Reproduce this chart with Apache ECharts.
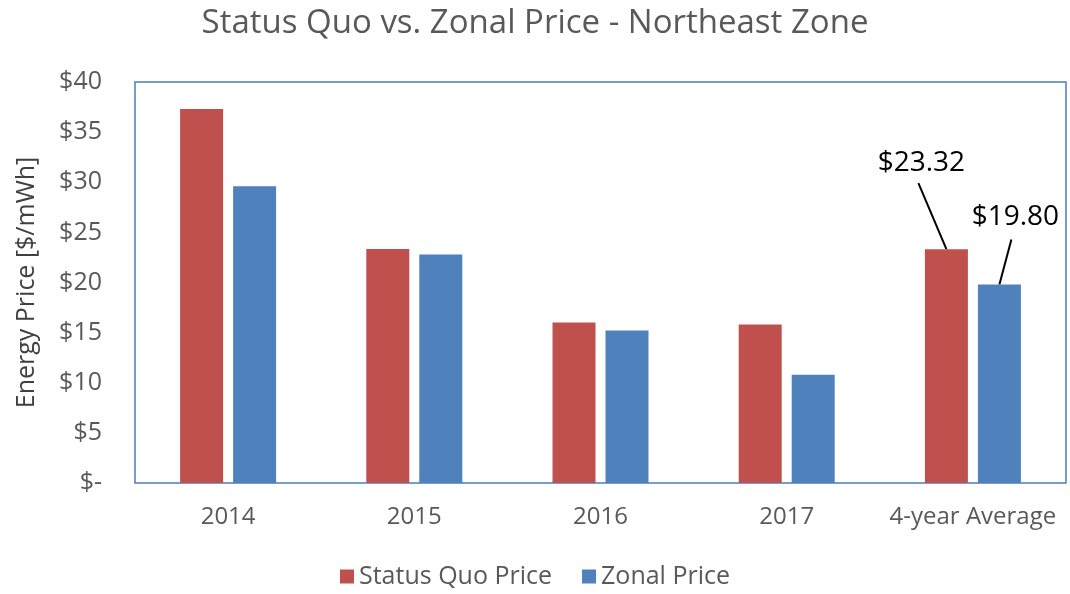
<!DOCTYPE html>
<html><head><meta charset="utf-8">
<script src="https://cdn.jsdelivr.net/npm/echarts@6/dist/echarts.min.js"></script>
<style>html,body{margin:0;padding:0;background:#fff}#c{width:1070px;height:594px}</style>
</head><body><div id="c"></div>
<script>
const categories = ['2014', '2015', '2016', '2017', '4-year Average'];
const statusQuo = [37.3, 23.35, 16.0, 15.8, 23.32];
const zonal = [29.6, 22.8, 15.2, 10.8, 19.80];
const seriesNames = ['Status Quo Price', 'Zonal Price'];
const labelledIndex = 4;

const FONT = '"Open Sans", "Liberation Sans", sans-serif';
const BAR_W = 43, BAR_GAP = 10;
const chart = echarts.init(document.getElementById('c'));

chart.setOption({
  animation: false,
  title: {
    text: 'Status Quo vs. Zonal Price - Northeast Zone',
    left: 'center', top: 2,
    textStyle: { fontFamily: FONT, fontSize: 33, fontWeight: 'normal', color: '#595959' }
  },
  legend: {
    bottom: 0, left: 'center',
    itemWidth: 14, itemHeight: 14, itemGap: 30,
    icon: 'rect',
    textStyle: { fontFamily: FONT, fontSize: 25, color: '#595959' },
    data: seriesNames
  },
  grid: { left: 135, right: 4, top: 82, bottom: 111, show: true, borderColor: '#4a7ebb', borderWidth: 1.5 },
  xAxis: {
    type: 'category', data: categories,
    axisLine: { show: false }, axisTick: { show: false },
    axisLabel: { interval: 0, hideOverlap: false, fontFamily: FONT, fontSize: 24, color: '#595959', margin: 22 }
  },
  yAxis: {
    type: 'value', min: 0, max: 40, interval: 5,
    name: 'Energy Price [$/mWh]', nameLocation: 'middle', nameGap: 96,
    nameTextStyle: { fontFamily: FONT, fontSize: 25, color: '#404040' },
    splitLine: { show: false }, axisLine: { show: false }, axisTick: { show: false },
    axisLabel: {
      fontFamily: FONT, fontSize: 25, color: '#595959', margin: 33,
      formatter: v => v === 0 ? '$-' : '$' + v
    }
  },
  series: [
    { name: seriesNames[0], type: 'bar', data: statusQuo, barWidth: BAR_W,
      barGap: (BAR_GAP / BAR_W * 100) + '%', itemStyle: { color: '#c0504d' } },
    { name: seriesNames[1], type: 'bar', data: zonal, barWidth: BAR_W,
      itemStyle: { color: '#4f81bd' } }
  ]
});

// callouts for the 4-year average, anchored to bar tops via the chart's own scales
const half = (BAR_W + BAR_GAP) / 2;
const specs = [
  { s: 0, val: statusQuo[labelledIndex], off: -half, tdx: -25, tdy: -86, ldx: -28, ldy: -66 },
  { s: 1, val: zonal[labelledIndex], off: half, tdx: 16, tdy: -67, ldx: 12, ldy: -45 }
];
const elements = [];
specs.forEach(sp => {
  const p = chart.convertToPixel({ seriesIndex: sp.s }, [labelledIndex, sp.val]);
  const bx = p[0] + sp.off, by = p[1];
  elements.push({
    type: 'text', x: bx + sp.tdx, y: by + sp.tdy,
    style: { text: '$' + sp.val.toFixed(2), fill: '#000', font: '28px ' + FONT,
      align: 'center', verticalAlign: 'middle' }
  });
  elements.push({
    type: 'line', shape: { x1: bx + sp.ldx, y1: by + sp.ldy, x2: bx, y2: by },
    style: { stroke: '#000', lineWidth: 2 }
  });
});
chart.setOption({ graphic: elements });
</script>
</body></html>
